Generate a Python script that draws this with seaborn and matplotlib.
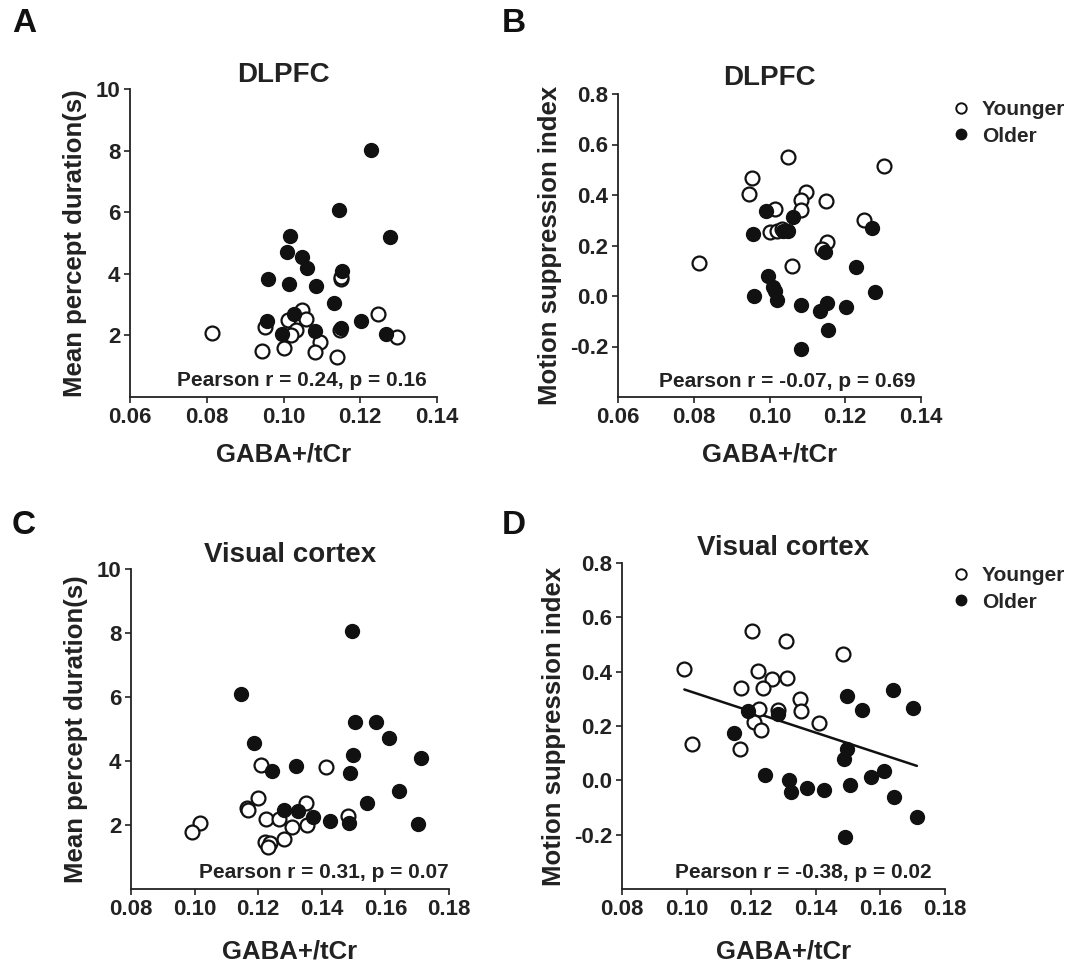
import numpy as np
import pandas as pd
import matplotlib
matplotlib.use("Agg")
import matplotlib.pyplot as plt
import seaborn as sns
from matplotlib.lines import Line2D

# values
# A: DLPFC, mean percept duration
a_young_x = [0.0814, 0.1149, 0.1149, 0.1049, 0.1247, 0.1012, 0.1059, 0.0951, 0.1033, 0.1146, 0.1020, 0.1297, 0.1094, 0.1000, 0.0945, 0.1082, 0.1139]
a_young_y = [2.08, 3.82, 3.90, 2.84, 2.69, 2.49, 2.52, 2.27, 2.19, 2.17, 2.01, 1.95, 1.78, 1.58, 1.49, 1.45, 1.30]
a_old_x = [0.1228, 0.1144, 0.1277, 0.1018, 0.1010, 0.1047, 0.1061, 0.1152, 0.0960, 0.1014, 0.1085, 0.1132, 0.1027, 0.1202, 0.0957, 0.1150, 0.1081, 0.0997, 0.1267]
a_old_y = [8.03, 6.07, 5.21, 5.24, 4.70, 4.54, 4.20, 4.09, 3.84, 3.68, 3.60, 3.06, 2.71, 2.46, 2.47, 2.25, 2.15, 2.06, 2.04]

# B: DLPFC, motion suppression index
b_young_x = [0.0813, 0.1050, 0.1301, 0.0953, 0.0946, 0.1096, 0.1084, 0.1149, 0.1014, 0.1084, 0.1250, 0.1001, 0.1020, 0.1032, 0.1151, 0.1139, 0.1060]
b_young_y = [0.132, 0.549, 0.514, 0.468, 0.404, 0.411, 0.379, 0.377, 0.343, 0.341, 0.300, 0.254, 0.258, 0.264, 0.215, 0.187, 0.119]
b_old_x = [0.0992, 0.1061, 0.0957, 0.1035, 0.1050, 0.1270, 0.1147, 0.1229, 0.0997, 0.1010, 0.1015, 0.0960, 0.1279, 0.1020, 0.1151, 0.1082, 0.1203, 0.1133, 0.1154, 0.1084]
b_old_y = [0.336, 0.312, 0.244, 0.258, 0.258, 0.269, 0.175, 0.115, 0.079, 0.037, 0.021, 0.000, 0.014, -0.017, -0.026, -0.037, -0.042, -0.061, -0.134, -0.211]

# C: visual cortex, mean percept duration
c_young_x = [0.1209, 0.1412, 0.1199, 0.1351, 0.1164, 0.1167, 0.1481, 0.1224, 0.1264, 0.1354, 0.1018, 0.1305, 0.0993, 0.1280, 0.1221, 0.1237, 0.1230]
c_young_y = [3.88, 3.81, 2.84, 2.69, 2.52, 2.47, 2.28, 2.20, 2.18, 2.01, 2.07, 1.95, 1.78, 1.57, 1.48, 1.45, 1.30]
c_old_x = [0.1496, 0.1147, 0.1504, 0.1570, 0.1612, 0.1188, 0.1497, 0.1711, 0.1318, 0.1243, 0.1490, 0.1643, 0.1541, 0.1281, 0.1325, 0.1373, 0.1425, 0.1485, 0.1703]
c_old_y = [8.05, 6.09, 5.23, 5.22, 4.71, 4.56, 4.20, 4.08, 3.83, 3.69, 3.61, 3.07, 2.70, 2.47, 2.45, 2.26, 2.14, 2.05, 2.04]

# D: visual cortex, motion suppression index
d_young_x = [0.0993, 0.1017, 0.1201, 0.1307, 0.1483, 0.1222, 0.1264, 0.1312, 0.1168, 0.1235, 0.1351, 0.1225, 0.1282, 0.1353, 0.1411, 0.1208, 0.1230, 0.1165]
d_young_y = [0.410, 0.133, 0.548, 0.513, 0.465, 0.403, 0.374, 0.377, 0.341, 0.340, 0.300, 0.263, 0.258, 0.257, 0.212, 0.215, 0.184, 0.117]
d_old_x = [0.1189, 0.1282, 0.1147, 0.1497, 0.1640, 0.1542, 0.1702, 0.1497, 0.1487, 0.1612, 0.1572, 0.1242, 0.1318, 0.1505, 0.1374, 0.1425, 0.1323, 0.1643, 0.1713, 0.1491]
d_old_y = [0.255, 0.243, 0.174, 0.311, 0.331, 0.258, 0.268, 0.114, 0.077, 0.036, 0.012, 0.021, 0.000, -0.018, -0.027, -0.037, -0.043, -0.060, -0.134, -0.210]

titles = ["DLPFC", "DLPFC", "Visual cortex", "Visual cortex"]
panel_letters = ["A", "B", "C", "D"]
ylabels = ["Mean percept duration(s)", "Motion suppression index",
           "Mean percept duration(s)", "Motion suppression index"]
stats_text = ["Pearson r = 0.24, p = 0.16", "Pearson r = -0.07, p = 0.69",
              "Pearson r = 0.31, p = 0.07", "Pearson r = -0.38, p = 0.02"]
xticks_dlpfc = [0.06, 0.08, 0.10, 0.12, 0.14]
xticks_visual = [0.08, 0.10, 0.12, 0.14, 0.16, 0.18]
yticks_dur = [2, 4, 6, 8, 10]
yticks_msi = [-0.2, 0.0, 0.2, 0.4, 0.6, 0.8]

sns.set_style("ticks")
plt.rcParams['font.family'] = ['Liberation Sans', 'DejaVu Sans']
plt.rcParams['font.weight'] = 'bold'
plt.rcParams['axes.labelweight'] = 'bold'
plt.rcParams['axes.titleweight'] = 'bold'

fig = plt.figure(figsize=(10.8, 9.65), dpi=100)

# axes positions in pixels (left, top, right, bottom)
boxes = [(130, 89, 437, 397), (618, 94, 921, 397), (131, 569, 449, 889), (622, 563, 945, 889)]
axes = []
for (l, t, r, b) in boxes:
    axes.append(fig.add_axes([l / 1080, 1 - b / 965, (r - l) / 1080, (b - t) / 965]))


def make_df(yx, yy, ox, oy):
    return pd.DataFrame({
        "gaba": yx + ox,
        "val": yy + oy,
        "group": ["Younger"] * len(yx) + ["Older"] * len(ox),
    })


dfs = [make_df(a_young_x, a_young_y, a_old_x, a_old_y),
       make_df(b_young_x, b_young_y, b_old_x, b_old_y),
       make_df(c_young_x, c_young_y, c_old_x, c_old_y),
       make_df(d_young_x, d_young_y, d_old_x, d_old_y)]

title_pads = [5, 6.5, 5, 5.5]
xlabel_pads = [11, 11, 14, 14]

for i, ax in enumerate(axes):
    df = dfs[i]
    young = df[df.group == "Younger"]
    old = df[df.group == "Older"]
    sns.scatterplot(data=young, x="gaba", y="val", ax=ax, s=100, color="white",
                    edgecolor="#111111", linewidth=1.6, zorder=3, clip_on=False)
    sns.scatterplot(data=old, x="gaba", y="val", ax=ax, s=100, color="#111111",
                    edgecolor="#111111", linewidth=1.0, zorder=4, clip_on=False)
    if i == 3:
        sns.regplot(data=df, x="gaba", y="val", ax=ax, scatter=False, ci=None,
                    color="#111111", line_kws={"linewidth": 1.8, "zorder": 2})

    if i in (0, 1):
        ax.set_xlim(0.06, 0.14)
        ax.set_xticks(xticks_dlpfc)
    else:
        ax.set_xlim(0.08, 0.18)
        ax.set_xticks(xticks_visual)
    ax.set_xticklabels([f"{v:.2f}" for v in ax.get_xticks()])

    if i in (0, 2):
        ax.set_ylim(0, 10)
        ax.set_yticks(yticks_dur)
        ax.set_yticklabels([str(v) for v in yticks_dur])
    else:
        ax.set_ylim(-0.4, 0.8)
        ax.set_yticks(yticks_msi)
        ax.set_yticklabels([f"{v:.1f}" for v in yticks_msi])

    sns.despine(ax=ax)
    for sp in ["left", "bottom"]:
        ax.spines[sp].set_linewidth(1.3)
        ax.spines[sp].set_color("#222222")
    ax.tick_params(axis="both", direction="out", length=4, width=1.2,
                   labelsize=16, colors="#222222", pad=3)
    for lab in ax.get_xticklabels() + ax.get_yticklabels():
        lab.set_fontweight("bold")

    ax.set_xlabel("GABA+/tCr", fontsize=18.5, labelpad=xlabel_pads[i], color="#222222")
    ax.set_ylabel(ylabels[i], fontsize=18.5, labelpad=6, color="#222222")
    ax.set_title(titles[i], fontsize=20, pad=title_pads[i], color="#222222")

    ax.text(0.56 if i != 2 else 0.607, 0.052, stats_text[i], transform=ax.transAxes,
            ha="center", va="center", fontsize=15, color="#222222")

# panel letters
for (lx, ly), letter in zip([(12, 23), (502, 23), (12, 525), (502, 525)], panel_letters):
    fig.text(lx / 1080, 1 - ly / 965, letter, fontsize=24, fontweight="bold",
             ha="left", va="center", color="#111111")

# legends for B and D
handles = [Line2D([], [], marker="o", linestyle="none", markersize=7.5, markerfacecolor="white",
                  markeredgecolor="#111111", markeredgewidth=1.4, label="Younger"),
           Line2D([], [], marker="o", linestyle="none", markersize=7.5, markerfacecolor="#111111",
                  markeredgecolor="#111111", label="Older")]
for ax, ytop in [(axes[1], 92), (axes[3], 558)]:
    ax.legend(handles=handles, loc="upper left", bbox_to_anchor=(940 / 1080, 1 - ytop / 965),
              bbox_transform=fig.transFigure, frameon=False, fontsize=15,
              handletextpad=0.4, labelspacing=0.35, borderaxespad=0, handlelength=1.2)

fig.savefig("out.png", dpi=100, facecolor="white")
